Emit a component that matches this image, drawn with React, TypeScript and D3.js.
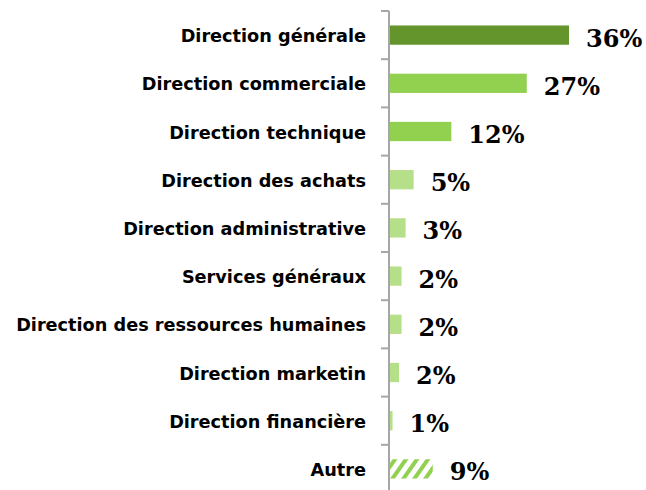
import React from "react";
import * as d3 from "d3";

const categories = [
  "Direction générale",
  "Direction commerciale",
  "Direction technique",
  "Direction des achats",
  "Direction administrative",
  "Services généraux",
  "Direction des ressources humaines",
  "Direction marketin",
  "Direction financière",
  "Autre",
];
const values = [35.8, 27.4, 12.4, 4.9, 3.3, 2.5, 2.5, 2.0, 0.7, 8.7];
const valueLabels = ["36%", "27%", "12%", "5%", "3%", "2%", "2%", "2%", "1%", "9%"];
const colorGroups = ["dark", "mid", "mid", "light", "light", "light", "light", "light", "light", "hatch"];

const W = 646;
const H = 490;
const axisX = 389;
const top = 11;
const step = 48.2;

export default function App() {
  const y = d3
    .scaleBand<string>()
    .domain(categories)
    .range([top, top + step * categories.length])
    .paddingInner(0.6)
    .paddingOuter(0.3);
  const x = d3.scaleLinear().domain([0, 36]).range([axisX, axisX + 181]);
  const fills: Record<string, string> = {
    dark: "#64952C",
    mid: "#92D050",
    light: "#B5DF88",
    hatch: "url(#hatch)",
  };
  const ticks = d3.range(categories.length + 1).map((i) => top + i * step);
  return (
    <svg
      width={W}
      height={H}
      style={{ position: "absolute", left: 0, top: 0, background: "#fff" }}
    >
      <defs>
        <pattern
          id="hatch"
          patternUnits="userSpaceOnUse"
          width="9"
          height="9"
          patternTransform="rotate(35)"
        >
          <rect x="0" y="0" width="4" height="9" fill="#92D050" />
        </pattern>
      </defs>
      {categories.map((c, i) => {
        const by = y(c)!;
        const bh = y.bandwidth();
        const cy = by + bh / 2;
        return (
          <g key={c}>
            <rect
              x={axisX}
              y={by}
              width={x(values[i]) - axisX}
              height={bh}
              fill={fills[colorGroups[i]]}
            />
            <text
              x={366}
              y={cy + 7}
              textAnchor="end"
              fontFamily="'DejaVu Sans', sans-serif"
              fontWeight="bold"
              fontSize={17.7}
              fill="#000"
            >
              {c}
            </text>
            <text
              x={x(values[i]) + 17}
              y={cy + 11.5}
              fontFamily="'DejaVu Serif', serif"
              fontWeight="bold"
              fontSize={24}
              fill="#000"
            >
              {valueLabels[i]}
            </text>
          </g>
        );
      })}
      <line x1={axisX} x2={axisX} y1={top} y2={H} stroke="#A6A6A6" strokeWidth={2} />
      {ticks.map((t, i) => (
        <line key={i} x1={axisX - 8} x2={axisX} y1={t} y2={t} stroke="#A6A6A6" strokeWidth={2} />
      ))}
    </svg>
  );
}
